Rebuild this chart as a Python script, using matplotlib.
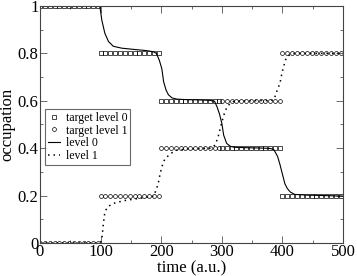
import numpy as np
import matplotlib
matplotlib.use("Agg")
import matplotlib.pyplot as plt
from matplotlib.ticker import MultipleLocator, FormatStrFormatter

# segments of the target schedule
seg_starts = [0, 100, 200, 300, 400]
target0_levels = [1.0, 0.8, 0.6, 0.4, 0.2]
target1_levels = [0.0, 0.2, 0.4, 0.6, 0.8]
marker_offsets = [0, 8, 16, 24, 32, 40, 48, 56, 64, 72, 80, 88, 96]

# simulated occupations
t_level0 = [0, 96, 99, 102, 107, 113, 121, 135, 154, 175, 187, 192, 197, 201, 204, 208,
            212, 218, 226, 240, 260, 280, 288, 292, 296, 300, 303, 308, 314, 320, 340,
            360, 380, 386, 392, 396, 400, 404, 408, 413, 420, 440, 470, 500]
v_level0 = [1, 1, 0.995, 0.94, 0.885, 0.85, 0.83, 0.822, 0.817, 0.812, 0.807, 0.80, 0.77,
            0.735, 0.68, 0.645, 0.625, 0.612, 0.607, 0.605, 0.604, 0.602, 0.598, 0.575,
            0.545, 0.505, 0.455, 0.42, 0.408, 0.404, 0.402, 0.401, 0.399, 0.393, 0.365,
            0.33, 0.29, 0.25, 0.23, 0.215, 0.205, 0.202, 0.200, 0.198]
t_level1 = [0, 97, 100, 102, 104.5, 107, 110, 113, 121, 137, 165, 187, 191, 195, 198, 201,
            204, 208, 214, 220, 226, 240, 260, 280, 286, 290, 294, 297, 300, 305, 309, 314,
            320, 340, 360, 380, 386, 390, 393, 396, 399, 402, 405, 408, 413, 420, 450, 500]
v_level1 = [0, 0, 0.003, 0.015, 0.08, 0.13, 0.145, 0.155, 0.167, 0.178, 0.189, 0.197, 0.22,
            0.25, 0.29, 0.32, 0.345, 0.36, 0.373, 0.385, 0.392, 0.396, 0.398, 0.4, 0.405,
            0.42, 0.449, 0.48, 0.51, 0.554, 0.575, 0.59, 0.598, 0.6, 0.601, 0.601, 0.605,
            0.635, 0.655, 0.675, 0.715, 0.745, 0.772, 0.786, 0.796, 0.8, 0.8, 0.8]

xticks = [0, 100, 200, 300, 400, 500]
yticks = [0, 0.2, 0.4, 0.6, 0.8, 1.0]

plt.rcParams['font.family'] = ['Liberation Serif', 'DejaVu Serif']

fig = plt.figure(figsize=(3.57, 2.76), dpi=100)
ax = fig.add_axes([0.112, 0.1196, 0.849, 0.8587])

tt0, vv0, tt1, vv1 = [], [], [], []
for s, a, b in zip(seg_starts, target0_levels, target1_levels):
    for o in marker_offsets:
        tt0.append(s + o); vv0.append(a)
        tt1.append(s + o); vv1.append(b)

ax.plot(tt0, vv0, linestyle='none', marker='s', markersize=2.8, markerfacecolor='none',
        markeredgecolor='black', markeredgewidth=0.5, label='target level 0')
ax.plot(tt1, vv1, linestyle='none', marker='o', markersize=2.8, markerfacecolor='none',
        markeredgecolor='black', markeredgewidth=0.5, label='target level 1')
ax.plot(t_level0, v_level0, color='black', linewidth=0.8, label='level 0')
ax.plot(t_level1, v_level1, color='black', linewidth=1.1, linestyle=(0, (1, 2.6)),
        label='level 1')

ax.set_xlim(0, 500)
ax.set_ylim(0, 1)
ax.set_xticks(xticks)
ax.set_yticks(yticks)
ax.xaxis.set_minor_locator(MultipleLocator(50))
ax.yaxis.set_minor_locator(MultipleLocator(0.1))
ax.yaxis.set_major_formatter(FormatStrFormatter('%g'))
ax.tick_params(which='both', direction='in', top=True, right=True, labelsize=12,
               width=0.6, color='#555555', pad=1)
ax.tick_params(which='major', length=5)
ax.tick_params(which='minor', length=2.5)
for sp in ax.spines.values():
    sp.set_linewidth(0.8)
    sp.set_color('#444444')

ax.set_xlabel('time (a.u.)', fontsize=12, labelpad=0)
ax.set_ylabel('occupation', fontsize=12, labelpad=2)

leg = ax.legend(loc='upper left', bbox_to_anchor=(0.0165, 0.565), borderaxespad=0,
                fontsize=8.5, frameon=True, fancybox=False, handlelength=1.0,
                handletextpad=0.5, labelspacing=0.05, borderpad=0.25, markerscale=1.0)
leg.get_frame().set_edgecolor('#444444')
leg.get_frame().set_linewidth(0.8)

fig.savefig('out.png', dpi=100)
